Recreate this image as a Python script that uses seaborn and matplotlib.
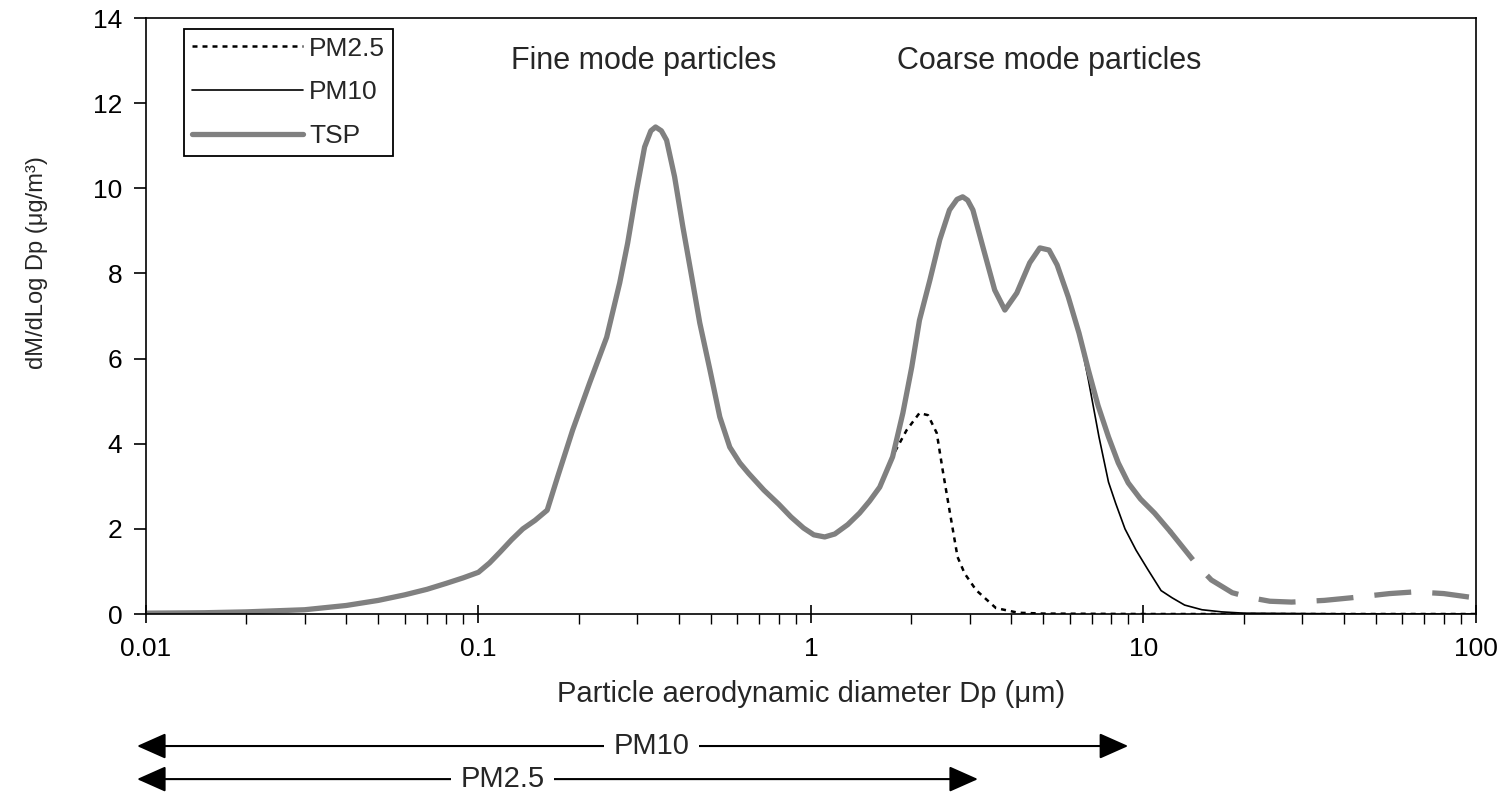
#!/usr/bin/env python3

import matplotlib

matplotlib.use("Agg")

import matplotlib.pyplot as plt
import numpy as np
import pandas as pd
import seaborn as sns
from matplotlib.ticker import LogLocator, NullFormatter

# TSP size distribution, solid part
tsp_dp = [
    0.01, 0.015, 0.02, 0.03, 0.04, 0.05, 0.06, 0.07, 0.08, 0.09,
    0.10, 0.108, 0.116, 0.126, 0.136, 0.148, 0.161, 0.173, 0.192, 0.216,
    0.243, 0.266, 0.281, 0.299, 0.316, 0.33, 0.341, 0.355, 0.368, 0.389,
    0.412, 0.438, 0.463, 0.497, 0.532, 0.570, 0.611, 0.65, 0.722, 0.80,
    0.871, 0.95, 1.02, 1.1, 1.18, 1.29, 1.40, 1.50, 1.61, 1.76,
    1.89, 2.01, 2.12, 2.28, 2.44, 2.61, 2.75, 2.86, 2.96, 3.07,
    3.29, 3.57, 3.83, 4.16, 4.55, 4.88, 5.2, 5.5, 5.94, 6.4,
    6.83, 7.3, 7.85, 8.4, 9.0, 9.8, 10.8, 12.0,
]
tsp_dm = [
    0.02, 0.03, 0.05, 0.10, 0.20, 0.32, 0.45, 0.58, 0.72, 0.85,
    0.98, 1.2, 1.45, 1.75, 2.0, 2.2, 2.44, 3.22, 4.32, 5.43,
    6.5, 7.78, 8.71, 9.96, 10.97, 11.35, 11.44, 11.35, 11.13, 10.27,
    9.09, 7.92, 6.84, 5.73, 4.63, 3.92, 3.55, 3.3, 2.91, 2.58,
    2.28, 2.02, 1.86, 1.81, 1.88, 2.1, 2.37, 2.65, 2.98, 3.69,
    4.72, 5.8, 6.9, 7.85, 8.79, 9.49, 9.74, 9.80, 9.72, 9.49,
    8.62, 7.61, 7.14, 7.54, 8.25, 8.6, 8.55, 8.2, 7.45, 6.6,
    5.73, 4.9, 4.16, 3.55, 3.08, 2.7, 2.37, 1.95,
]

# TSP tail, drawn dashed
tsp_tail_dp = [12.0, 14.5, 16.0, 18.5, 21.1, 24.0, 27.9, 35.0, 42.0, 55.0, 65.5, 80.0, 95.0, 100.0]
tsp_tail_dm = [1.95, 1.15, 0.80, 0.50, 0.38, 0.30, 0.28, 0.32, 0.38, 0.48, 0.52, 0.48, 0.40, 0.38]

# PM10 leaves the TSP curve near 6.4 um
pm10_dp = [6.4, 6.83, 7.35, 7.85, 8.25, 8.8, 9.5, 10.3, 11.3, 12.2, 13.3, 15.0, 17.2, 20.0, 30.0, 50.0, 100.0]
pm10_dm = [6.6, 5.5, 4.16, 3.1, 2.6, 2.0, 1.5, 1.05, 0.55, 0.38, 0.21, 0.10, 0.05, 0.02, 0.01, 0.0, 0.0]

# PM2.5 leaves the TSP curve near 1.78 um
pm25_dp = [1.78, 1.94, 2.12, 2.25, 2.39, 2.49, 2.61, 2.76, 2.90, 3.14, 3.6, 4.2, 5.0, 10.0, 100.0]
pm25_dm = [3.78, 4.32, 4.72, 4.67, 4.25, 3.38, 2.44, 1.34, 0.95, 0.56, 0.14, 0.03, 0.01, 0.0, 0.0]

x_ticks = [0.01, 0.1, 1, 10, 100]
x_tick_labels = ["0.01", "0.1", "1", "10", "100"]
y_ticks = [0, 2, 4, 6, 8, 10, 12, 14]


def branch(x_head, y_head, x_branch, y_branch) -> pd.DataFrame:
    # shared part of the curve up to where the branch starts
    head = [(x, y) for x, y in zip(x_head, y_head) if x < x_branch[0]]
    xs = [p[0] for p in head] + list(x_branch)
    ys = [p[1] for p in head] + list(y_branch)
    return pd.DataFrame({"dp": xs, "dm": ys})


def plot_distribution() -> plt.Figure:
    fig, ax = plt.subplots(figsize=(15.03, 7.97), dpi=100)
    fig.subplots_adjust(left=0.0971, right=0.982, bottom=0.2296, top=0.9774)

    df_tsp = pd.DataFrame({"dp": tsp_dp, "dm": tsp_dm})
    df_tail = pd.DataFrame({"dp": tsp_tail_dp, "dm": tsp_tail_dm})
    df_pm10 = branch(tsp_dp, tsp_dm, pm10_dp, pm10_dm)
    df_pm25 = branch(tsp_dp, tsp_dm, pm25_dp, pm25_dm)

    common = dict(x="dp", y="dm", ax=ax, estimator=None, sort=False)
    sns.lineplot(data=df_pm25, color="black", lw=1.8, linestyle=(0, (2, 2)),
                 label="PM2.5", **common)
    sns.lineplot(data=df_pm10, color="black", lw=1.2, label="PM10", **common)
    sns.lineplot(data=df_tsp, color="#808080", lw=3.8, label="TSP",
                 solid_joinstyle="round", **common)
    sns.lineplot(data=df_tail, color="#808080", lw=3.8, linestyle=(0, (7, 4)),
                 legend=False, **common)

    ax.set_xscale("log")
    ax.set_xlim(0.01, 100)
    ax.set_ylim(0, 14)
    ax.set_xticks(x_ticks)
    ax.set_xticklabels(x_tick_labels)
    ax.xaxis.set_minor_locator(LogLocator(base=10, subs=np.arange(2, 10)))
    ax.xaxis.set_minor_formatter(NullFormatter())
    ax.set_yticks(y_ticks)

    for spine in ax.spines.values():
        spine.set_visible(True)
        spine.set_color("black")
        spine.set_linewidth(1.2)

    ax.tick_params(axis="x", which="major", direction="inout", length=13,
                   width=1.2, pad=10, labelsize=19, colors="black")
    ax.tick_params(axis="x", which="minor", direction="out", length=7,
                   width=1.0, colors="black")
    ax.tick_params(axis="y", which="major", direction="out", length=9,
                   width=1.2, pad=8, labelsize=19, colors="black")

    ax.set_xlabel("Particle aerodynamic diameter Dp (μm)", fontsize=21, labelpad=14)
    ax.set_ylabel("dM/dLog Dp (μg/m³)", fontsize=17)
    ax.yaxis.set_label_coords(-0.074, 0.59)

    ax.legend(
        loc="upper left",
        bbox_to_anchor=(0.0286, 0.982),
        borderaxespad=0,
        fontsize=19,
        handlelength=4.2,
        handletextpad=0.25,
        labelspacing=0.75,
        borderpad=0.3,
        fancybox=False,
        framealpha=1,
        edgecolor="black",
    ).get_frame().set_linewidth(1.3)

    ax.text(0.314, 13.0, "Fine mode particles", ha="center", va="center", fontsize=22)
    ax.text(5.19, 13.0, "Coarse mode particles", ha="center", va="center", fontsize=22)

    # size ranges below the axis
    trans = ax.get_xaxis_transform()
    for lo, hi, yy, label, xc in [
        (0.0094, 9.0, -0.2215, "PM10", 0.332),
        (0.0094, 3.18, -0.277, "PM2.5", 0.118),
    ]:
        ax.annotate(
            "",
            xy=(hi, yy),
            xytext=(lo, yy),
            xycoords=trans,
            textcoords=trans,
            annotation_clip=False,
            arrowprops=dict(
                arrowstyle="<|-|>,head_length=0.9,head_width=0.4",
                color="black",
                lw=1.5,
                mutation_scale=20,
                shrinkA=0,
                shrinkB=0,
            ),
        )
        ax.text(xc, yy, label, transform=trans, ha="center", va="center",
                fontsize=21, zorder=5,
                bbox=dict(facecolor="white", edgecolor="none", pad=7))

    return fig


def main() -> None:
    sns.set_theme(style="ticks")
    plt.rcParams["font.family"] = ["Liberation Sans", "DejaVu Sans"]
    fig = plot_distribution()
    fig.savefig("out.png", dpi=100)


if __name__ == "__main__":
    main()
